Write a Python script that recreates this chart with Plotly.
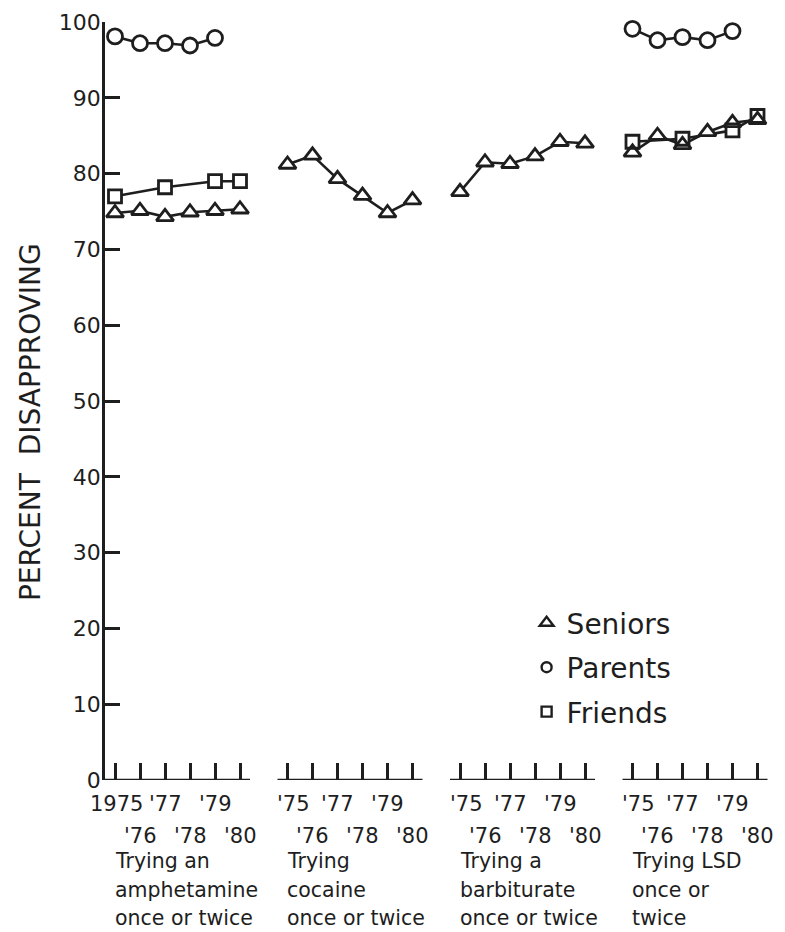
import plotly.graph_objects as go

# -----------------------------
# DATA
# -----------------------------
YEARS = [1975, 1976, 1977, 1978, 1979, 1980]
PARENT_YEARS = [1975, 1976, 1977, 1978, 1979]
FRIEND_YEARS = [1975, 1977, 1979, 1980]

GROUP_LABELS = [
    ["Trying an", "amphetamine", "once or twice"],
    ["Trying", "cocaine", "once or twice"],
    ["Trying a", "barbiturate", "once or twice"],
    ["Trying LSD", "once or", "twice"],
]

# seniors, by drug group
SENIORS_AMPHETAMINE = [74.8, 75.1, 74.3, 74.9, 75.1, 75.3]
SENIORS_COCAINE = [81.2, 82.4, 79.3, 77.1, 74.8, 76.5]
SENIORS_BARBITURATE = [77.6, 81.5, 81.3, 82.3, 84.2, 84.0]
SENIORS_LSD = [82.8, 85.0, 83.8, 85.5, 86.7, 87.1]

# parents (amphetamine, LSD only)
PARENTS_AMPHETAMINE = [98.1, 97.2, 97.2, 96.9, 97.9]
PARENTS_LSD = [99.1, 97.6, 98.0, 97.6, 98.8]

# friends (amphetamine, LSD only)
FRIENDS_AMPHETAMINE = [77.0, 78.2, 79.0, 79.0]
FRIENDS_LSD = [84.2, 84.6, 85.7, 87.6]

ODD_YEAR_LABELS = ["'75", "'77", "'79"]
EVEN_YEAR_LABELS = ["'76", "'78", "'80"]

GROUP_GAP = 6.9
FONT = "DejaVu Sans"
INK = "#1e1e1e"


def xpos(group, year):
    return group * GROUP_GAP + (year - 1975)


def series(groups):
    """groups: list of (group_index, years, values) -> x, y with gaps"""
    xs, ys = [], []
    for g, yrs, vals in groups:
        xs += [xpos(g, yr) for yr in yrs] + [None]
        ys += list(vals) + [None]
    return xs, ys


sx, sy = series([
    (0, YEARS, SENIORS_AMPHETAMINE),
    (1, YEARS, SENIORS_COCAINE),
    (2, YEARS, SENIORS_BARBITURATE),
    (3, YEARS, SENIORS_LSD),
])
fx, fy = series([(0, FRIEND_YEARS, FRIENDS_AMPHETAMINE), (3, FRIEND_YEARS, FRIENDS_LSD)])
px_, py_ = series([(0, PARENT_YEARS, PARENTS_AMPHETAMINE), (3, PARENT_YEARS, PARENTS_LSD)])

SERIES = [
    (fx, fy, "square", 13),
    (sx, sy, "triangle-up", 15),
    (px_, py_, "circle", 15),
]

fig = go.Figure()

# 1) connecting lines
for xs, ys, sym, size in SERIES:
    fig.add_trace(go.Scatter(
        x=xs, y=ys, mode="lines", connectgaps=False,
        line=dict(color=INK, width=2.6),
        showlegend=False, hoverinfo="skip", cliponaxis=False,
    ))

# 2) white fills to hide lines inside the open symbols
for xs, ys, sym, size in SERIES:
    fig.add_trace(go.Scatter(
        x=xs, y=ys, mode="markers",
        marker=dict(symbol=sym, size=size, color="white", line=dict(width=0)),
        showlegend=False, hoverinfo="skip", cliponaxis=False,
    ))

# 3) outlines, all visible even where they overlap
for xs, ys, sym, size in SERIES:
    fig.add_trace(go.Scatter(
        x=xs, y=ys, mode="markers",
        marker=dict(symbol=sym, size=size, color="rgba(255,255,255,0)",
                    line=dict(color=INK, width=2.8)),
        showlegend=False, hoverinfo="skip", cliponaxis=False,
    ))

# legend-only entries
for name, sym, size in [("Seniors", "triangle-up", 12), ("Parents", "circle", 10), ("Friends", "square", 10)]:
    fig.add_trace(go.Scatter(
        x=[None], y=[None], mode="markers", name=name, legendgroup=name,
        marker=dict(symbol=sym, size=size, color="white", line=dict(color=INK, width=2.4)),
    ))

# baselines under each group
for g in range(4):
    fig.add_shape(
        type="line", xref="x", yref="y",
        x0=xpos(g, 1975) - 0.4, x1=xpos(g, 1980) + 0.4, y0=0, y1=0,
        line=dict(color=INK, width=2.6),
    )

# year labels, staggered in two rows
for g in range(4):
    for i, yr in enumerate(YEARS):
        if i % 2 == 0:
            first = (g == 0 and i == 0)
            text = "1975" if first else ODD_YEAR_LABELS[i // 2]
            shift = -24
            xshift = 1 if first else (6 if i == 0 else 0)
        else:
            text = EVEN_YEAR_LABELS[i // 2]
            shift = -56
            xshift = 0
        fig.add_annotation(
            x=xpos(g, yr), y=0, xref="x", yref="y",
            text=text, showarrow=False, yanchor="middle", yshift=shift,
            xshift=xshift,
            font=dict(family=FONT, size=21, color=INK),
        )
    for k, line in enumerate(GROUP_LABELS[g]):
        fig.add_annotation(
            x=xpos(g, 1975) - 0.1, y=0, xref="x", yref="y",
            text=line, showarrow=False,
            xanchor="left", yanchor="middle", align="left", yshift=-81 - 28.5 * k,
            font=dict(family=FONT, size=20.5, color=INK),
        )

# y axis title
fig.add_annotation(
    x=-0.113, y=0.472, xref="paper", yref="paper",
    xanchor="center", yanchor="middle",
    text="PERCENT  DISAPPROVING", textangle=-90, showarrow=False,
    font=dict(family=FONT, size=28, color=INK),
)

fig.update_layout(
    width=785, height=932,
    margin=dict(l=97, r=23, t=14, b=160),
    paper_bgcolor="white", plot_bgcolor="white",
    font=dict(family=FONT, color=INK),
    legend=dict(
        x=0.634, y=0.24, xanchor="left", yanchor="top",
        font=dict(family=FONT, size=28, color=INK),
        tracegroupgap=5, bgcolor="rgba(0,0,0,0)",
    ),
)

fig.update_xaxes(
    range=[-0.4, 26.2],
    showgrid=False, zeroline=False, showline=False,
    tickvals=[xpos(g, yr) for g in range(4) for yr in YEARS],
    ticks="inside", ticklen=17, tickwidth=2.6, tickcolor=INK,
    showticklabels=False,
)

fig.update_yaxes(
    range=[0, 100],
    showgrid=False, zeroline=False,
    showline=True, linewidth=2.6, linecolor=INK,
    tickvals=list(range(0, 101, 10)),
    ticks="inside", ticklen=15, tickwidth=2.6, tickcolor=INK,
    tickfont=dict(family=FONT, size=22, color=INK),
    ticklabelstandoff=-3,
    ticklabeloverflow="allow",
    automargin=False,
)

fig.write_html("out.html")
